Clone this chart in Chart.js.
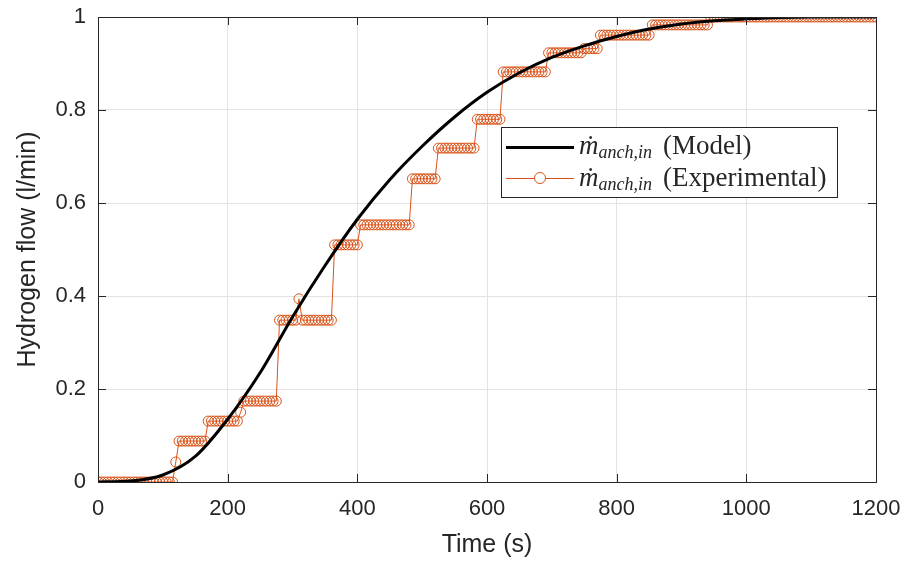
<!DOCTYPE html>
<html>
<head>
<meta charset="utf-8">
<script src="https://cdn.jsdelivr.net/npm/chart.js@4.4.1/dist/chart.umd.min.js"></script>
<style>
    body { margin: 0; background: #fff; }
    .wrap { position: relative; width: 904px; height: 565px; }
    .legend {
        position: absolute; left: 501px; top: 127px; width: 335px; height: 69px;
        border: 1px solid #262626; background: #fff;
        font-family: "Liberation Serif", "DejaVu Serif", serif; font-size: 27px; color: #262626;
    }
    .legend .row { position: absolute; left: 0; height: 30px; line-height: 30px; white-space: nowrap; }
    .legend .sample { position: absolute; left: 4px; width: 68px; }
    .legend .label { position: absolute; left: 77px; }
    .legend sub { font-size: 18px; vertical-align: -4px; margin-right: 11px; }
    .legend i { font-style: italic; }
</style>
</head>
<body>
<div class="wrap">
    <canvas id="flowChart" width="904" height="565"></canvas>
    <div class="legend">
        <div class="row" style="top:2px">
            <div class="sample" style="top:16px;height:3px;background:#000"></div>
            <div class="label"><i>ṁ<sub>anch,in</sub></i>(Model)</div>
        </div>
        <div class="row" style="top:34px">
            <div class="sample" style="top:16px;height:1px;background:#D95319"></div>
            <div style="position:absolute;left:32px;top:10px;width:10px;height:10px;border:1px solid #D95319;border-radius:50%;background:#fff"></div>
            <div class="label"><i>ṁ<sub>anch,in</sub></i>(Experimental)</div>
        </div>
    </div>
</div>
<script>
// Model curve (s, l/min)
const modelTime = [0, 50, 100, 150, 200, 250, 300, 350, 400, 450, 500, 550, 600, 650, 700, 750, 800, 850, 900, 950, 1000, 1050, 1100, 1150, 1200];
const modelFlow = [0, 0.002, 0.015, 0.055, 0.135, 0.235, 0.355, 0.465, 0.565, 0.65, 0.722, 0.785, 0.838, 0.88, 0.913, 0.938, 0.958, 0.974, 0.985, 0.992, 0.996, 0.999, 1.0, 1.0, 1.0];

// Experimental flow, logged every 5 s: level held for n samples
const sampleStep = 5;
const expLevels = [0, 0.043, 0.088, 0.131, 0.15, 0.174, 0.348, 0.394, 0.348, 0.51, 0.553, 0.652, 0.718, 0.78, 0.882, 0.923, 0.932, 0.961, 0.983, 1.0];
const expCounts = [24, 1, 9, 10, 1, 11, 6, 1, 10, 8, 16, 8, 12, 8, 14, 11, 5, 16, 18, 52];

const xTicks = [0, 200, 400, 600, 800, 1000, 1200];
const yTicks = [0, 0.2, 0.4, 0.6, 0.8, 1];

const modelPoints = modelTime.map((t, i) => ({ x: t, y: modelFlow[i] }));
const expPoints = [];
expLevels.forEach((lvl, k) => {
    for (let j = 0; j < expCounts[k]; j++) {
        expPoints.push({ x: expPoints.length * sampleStep, y: lvl });
    }
});

// box round the axes with small inward ticks, MATLAB style
const boxPlugin = {
    id: 'box',
    afterDraw(chart) {
        const { ctx, chartArea: a, scales } = chart;
        ctx.save();
        ctx.strokeStyle = '#262626';
        ctx.lineWidth = 1;
        ctx.strokeRect(a.left + 0.5, a.top + 0.5, a.right - a.left, a.bottom - a.top);
        ctx.beginPath();
        xTicks.forEach(v => {
            const px = Math.round(scales.x.getPixelForValue(v)) + 0.5;
            ctx.moveTo(px, a.bottom); ctx.lineTo(px, a.bottom - 8);
            ctx.moveTo(px, a.top); ctx.lineTo(px, a.top + 8);
        });
        yTicks.forEach(v => {
            const py = Math.round(scales.y.getPixelForValue(v)) + 0.5;
            ctx.moveTo(a.left, py); ctx.lineTo(a.left + 8, py);
            ctx.moveTo(a.right, py); ctx.lineTo(a.right - 8, py);
        });
        ctx.stroke();
        ctx.restore();
    }
};

const tickFont = { family: 'Liberation Sans', size: 22 };
const titleFont = { family: 'Liberation Sans', size: 25 };

new Chart(document.getElementById('flowChart'), {
    type: 'line',
    data: {
        datasets: [{
            label: 'Model',
            data: modelPoints,
            borderColor: '#000000',
            borderWidth: 3,
            pointRadius: 0,
            cubicInterpolationMode: 'monotone',
            fill: false
        }, {
            label: 'Experimental',
            data: expPoints,
            borderColor: '#D95319',
            borderWidth: 1,
            pointRadius: 5,
            pointBorderWidth: 1,
            pointBorderColor: '#D95319',
            pointBackgroundColor: 'rgba(0,0,0,0)',
            tension: 0,
            fill: false
        }]
    },
    options: {
        responsive: false,
        animation: false,
        layout: { padding: { top: 17, right: 28, left: 0, bottom: 0 } },
        plugins: { legend: { display: false }, tooltip: { enabled: false } },
        scales: {
            x: {
                type: 'linear', min: 0, max: 1200,
                afterBuildTicks: s => { s.ticks = xTicks.map(v => ({ value: v })); },
                afterFit: s => { s.height = 83; s.paddingLeft = 0; s.paddingRight = 0; },
                grid: { color: '#e3e3e3', drawTicks: false },
                border: { display: false },
                ticks: { padding: 14, color: '#262626', font: tickFont, maxRotation: 0, callback: v => String(v) },
                title: { display: true, text: 'Time (s)', color: '#262626', font: titleFont, padding: { top: 4, bottom: 5 } }
            },
            y: {
                min: 0, max: 1,
                afterBuildTicks: s => { s.ticks = yTicks.map(v => ({ value: v })); },
                afterFit: s => { s.width = 98; s.paddingTop = 0; s.paddingBottom = 0; },
                grid: { color: '#e3e3e3', drawTicks: false },
                border: { display: false },
                ticks: { padding: 12, color: '#262626', font: tickFont, callback: v => String(v) },
                title: { display: true, text: 'Hydrogen flow (l/min)', color: '#262626', font: titleFont, padding: { top: 13, bottom: 4 } }
            }
        }
    },
    plugins: [boxPlugin]
});
</script>
</body>
</html>
